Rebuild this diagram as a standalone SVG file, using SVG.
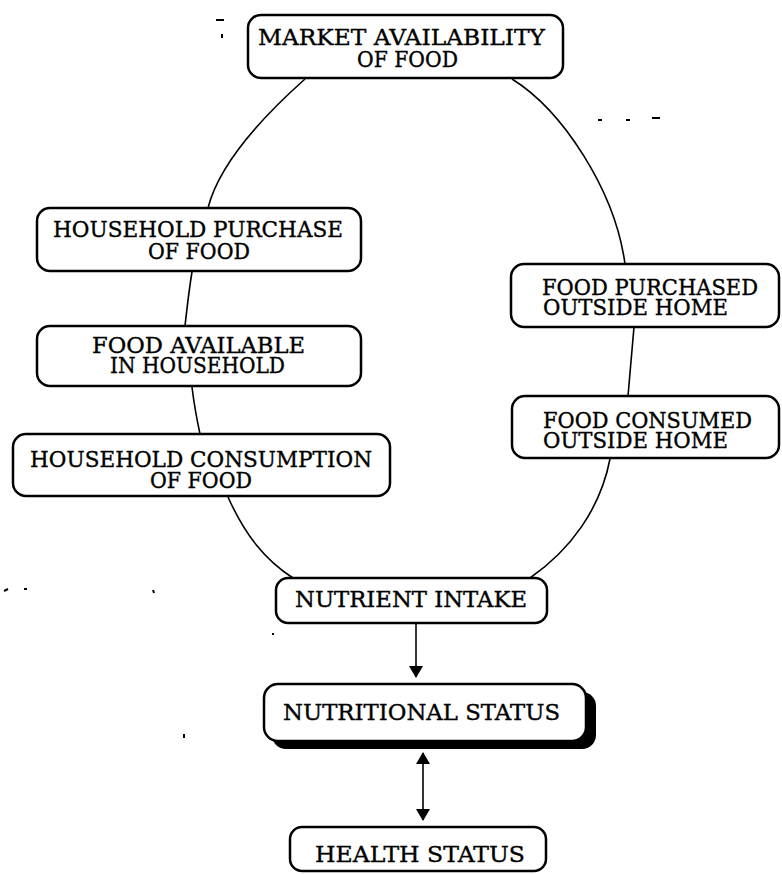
<svg xmlns="http://www.w3.org/2000/svg" width="782" height="874" viewBox="0 0 782 874">
<style>
.box{fill:#fff;stroke:#000;stroke-width:2.5}
.t{font-family:"DejaVu Serif","Liberation Serif",serif;font-size:21.5px;fill:#000;stroke:#000;stroke-width:0.35}
.link{fill:none;stroke:#000;stroke-width:1.6}
.arr{fill:none;stroke:#000;stroke-width:1.6}
.mk{stroke:#000;stroke-width:2}
</style>
<defs>
<marker id="ah" viewBox="0 0 12 14" refX="11" refY="7" markerWidth="12" markerHeight="14" markerUnits="userSpaceOnUse" orient="auto">
<path d="M0,0 L12,7 L0,14 Z" fill="#000"/>
</marker>
<marker id="ahs" viewBox="0 0 12 14" refX="11" refY="7" markerWidth="12" markerHeight="14" markerUnits="userSpaceOnUse" orient="auto-start-reverse">
<path d="M0,0 L12,7 L0,14 Z" fill="#000"/>
</marker>
</defs>
<rect width="782" height="874" fill="#fff"/>
<g id="connectors">
<path class="link" d="M305,79 C268,112 220,160 208,208"/>
<path class="link" d="M192,272 C189,290 187,308 185,326"/>
<path class="link" d="M192,387 C194,404 197,420 200,434"/>
<path class="link" d="M228,497 C245,535 265,560 293,578"/>
<path class="link" d="M512,79 C562,110 615,190 625,264"/>
<path class="link" d="M634,327 C632,350 630,373 628,396"/>
<path class="link" d="M610,459 C600,510 570,550 530,578"/>
<path class="arr" d="M416,623 L416,677" marker-end="url(#ah)"/>
<path class="arr" d="M423,753 L423,820" marker-start="url(#ahs)" marker-end="url(#ah)"/>
</g>
<g id="market">
<rect class="box" x="248" y="15" width="315" height="63" rx="13"/>
<text class="t" x="258" y="45" textLength="287" lengthAdjust="spacingAndGlyphs">MARKET AVAILABILITY</text>
<text class="t" x="357" y="67" textLength="101" lengthAdjust="spacingAndGlyphs">OF FOOD</text>
</g>
<g id="household-purchase">
<rect class="box" x="37" y="208" width="324" height="63" rx="13"/>
<text class="t" x="53" y="237" textLength="290" lengthAdjust="spacingAndGlyphs">HOUSEHOLD PURCHASE</text>
<text class="t" x="148" y="259" textLength="102" lengthAdjust="spacingAndGlyphs">OF FOOD</text>
</g>
<g id="food-available">
<rect class="box" x="37" y="326" width="324" height="60" rx="13"/>
<text class="t" x="92" y="353" textLength="213" lengthAdjust="spacingAndGlyphs">FOOD AVAILABLE</text>
<text class="t" x="110" y="373" textLength="175" lengthAdjust="spacingAndGlyphs">IN HOUSEHOLD</text>
</g>
<g id="household-consumption">
<rect class="box" x="13" y="434" width="377" height="62" rx="13"/>
<text class="t" x="30" y="467" textLength="342" lengthAdjust="spacingAndGlyphs">HOUSEHOLD CONSUMPTION</text>
<text class="t" x="150" y="488" textLength="102" lengthAdjust="spacingAndGlyphs">OF FOOD</text>
</g>
<g id="food-purchased-outside">
<rect class="box" x="511" y="264" width="268" height="63" rx="13"/>
<text class="t" x="542" y="295" textLength="216" lengthAdjust="spacingAndGlyphs">FOOD PURCHASED</text>
<text class="t" x="543" y="315" textLength="185" lengthAdjust="spacingAndGlyphs">OUTSIDE HOME</text>
</g>
<g id="food-consumed-outside">
<rect class="box" x="512" y="396" width="267" height="62" rx="13"/>
<text class="t" x="543" y="428" textLength="209" lengthAdjust="spacingAndGlyphs">FOOD CONSUMED</text>
<text class="t" x="543" y="448" textLength="185" lengthAdjust="spacingAndGlyphs">OUTSIDE HOME</text>
</g>
<g id="nutrient-intake">
<rect class="box" x="276" y="578" width="271" height="45" rx="12"/>
<text class="t" x="295" y="607" textLength="232" lengthAdjust="spacingAndGlyphs">NUTRIENT INTAKE</text>
</g>
<g id="nutritional-status">
<rect x="272" y="692" width="324" height="57" rx="14" fill="#000"/>
<rect class="box" x="264" y="684" width="322" height="57" rx="14"/>
<text class="t" x="283" y="720" textLength="277" lengthAdjust="spacingAndGlyphs">NUTRITIONAL STATUS</text>
</g>
<g id="health-status">
<rect class="box" x="290" y="827" width="256" height="44" rx="12"/>
<text class="t" x="315" y="862" textLength="210" lengthAdjust="spacingAndGlyphs">HEALTH STATUS</text>
</g>
<g id="marks">
<line class="mk" x1="216" y1="20" x2="224" y2="20"/>
<line class="mk" x1="222" y1="34" x2="222" y2="38"/>
<line class="mk" x1="598" y1="120" x2="602" y2="120"/>
<line class="mk" x1="626" y1="120" x2="630" y2="120"/>
<line class="mk" x1="652" y1="118" x2="660" y2="118"/>
<line class="mk" x1="4" y1="591" x2="8" y2="589"/>
<line class="mk" x1="24" y1="589" x2="27" y2="589"/>
<line class="mk" x1="153" y1="590" x2="154" y2="593"/>
<line class="mk" x1="272" y1="634" x2="274" y2="634"/>
<line class="mk" x1="184" y1="734" x2="184" y2="738"/>
</g>
</svg>
